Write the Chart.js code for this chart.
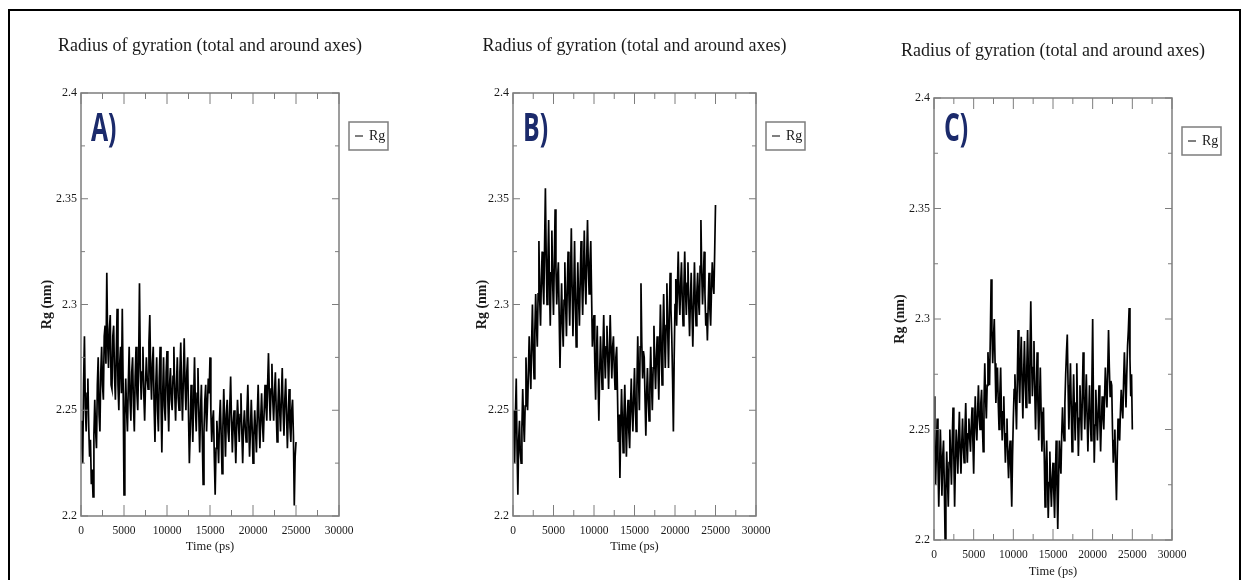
<!DOCTYPE html>
<html>
<head>
<meta charset="utf-8">
<title>Radius of gyration</title>
<script src="https://cdn.jsdelivr.net/npm/chart.js@4.4.1/dist/chart.umd.min.js"></script>
<style>
  body { margin: 0; background: #fff; }
  #page { position: relative; width: 1245px; height: 580px; overflow: hidden; background: #fff; }
  #frame { position: absolute; left: 8px; top: 9px; width: 1233px; height: 600px; border: 2px solid #000; box-sizing: border-box; }
  canvas { position: absolute; top: 0; }
</style>
</head>
<body>
<div id="page">
  <div id="frame"></div>
  <canvas id="chartA" width="415" height="580" style="left:0px"></canvas>
  <canvas id="chartB" width="410" height="580" style="left:420px"></canvas>
  <canvas id="chartC" width="415" height="580" style="left:830px"></canvas>
</div>
<script>
// time axis: one sample every 100 ps, 0 .. 25000 ps
const timePs = Array.from({ length: 251 }, (_, i) => i * 100);

const xTicks = [0, 5000, 10000, 15000, 20000, 25000, 30000];
const yTicks = [2.2, 2.25, 2.3, 2.35, 2.4];

// Rg (nm), 10 samples (1 ns) per row
const rgA = [
  2.245, 2.232, 2.225, 2.262, 2.285, 2.252, 2.240, 2.258, 2.265, 2.242,
  2.228, 2.236, 2.215, 2.222, 2.209, 2.238, 2.255, 2.240, 2.232, 2.262,
  2.275, 2.248, 2.240, 2.268, 2.280, 2.262, 2.255, 2.285, 2.290, 2.272,
  2.315, 2.282, 2.270, 2.288, 2.295, 2.262, 2.260, 2.285, 2.290, 2.266,
  2.255, 2.276, 2.298, 2.262, 2.250, 2.272, 2.280, 2.258, 2.298, 2.262,
  2.210, 2.248, 2.265, 2.250, 2.240, 2.262, 2.280, 2.255, 2.245, 2.268,
  2.275, 2.252, 2.240, 2.266, 2.280, 2.258, 2.250, 2.272, 2.310, 2.270,
  2.255, 2.268, 2.280, 2.258, 2.245, 2.262, 2.275, 2.265, 2.260, 2.282,
  2.295, 2.268, 2.255, 2.272, 2.280, 2.252, 2.235, 2.262, 2.275, 2.250,
  2.240, 2.265, 2.280, 2.255, 2.230, 2.258, 2.275, 2.252, 2.245, 2.268,
  2.278, 2.255, 2.240, 2.262, 2.270, 2.255, 2.250, 2.266, 2.280, 2.258,
  2.245, 2.262, 2.275, 2.256, 2.250, 2.268, 2.282, 2.260, 2.245, 2.265,
  2.284, 2.262, 2.250, 2.268, 2.275, 2.248, 2.225, 2.240, 2.262, 2.250,
  2.235, 2.255, 2.275, 2.252, 2.240, 2.258, 2.270, 2.248, 2.230, 2.250,
  2.262, 2.238, 2.215, 2.240, 2.255, 2.262, 2.240, 2.252, 2.265, 2.258,
  2.275, 2.250, 2.235, 2.245, 2.250, 2.228, 2.210, 2.232, 2.245, 2.236,
  2.225, 2.245, 2.255, 2.238, 2.220, 2.242, 2.260, 2.245, 2.228, 2.248,
  2.255, 2.240, 2.235, 2.252, 2.266, 2.245, 2.230, 2.244, 2.250, 2.238,
  2.225, 2.242, 2.255, 2.245, 2.235, 2.248, 2.258, 2.240, 2.225, 2.242,
  2.250, 2.242, 2.235, 2.250, 2.262, 2.245, 2.228, 2.240, 2.255, 2.242,
  2.225, 2.238, 2.250, 2.240, 2.230, 2.248, 2.262, 2.245, 2.232, 2.246,
  2.258, 2.244, 2.235, 2.250, 2.262, 2.252, 2.245, 2.262, 2.277, 2.258,
  2.245, 2.260, 2.272, 2.255, 2.245, 2.258, 2.268, 2.250, 2.235, 2.252,
  2.265, 2.250, 2.240, 2.256, 2.270, 2.250, 2.238, 2.255, 2.265, 2.248,
  2.232, 2.248, 2.260, 2.242, 2.235, 2.250, 2.255, 2.238, 2.205, 2.228,
  2.235
];

const rgB = [
  2.250, 2.238, 2.225, 2.248, 2.265, 2.232, 2.210, 2.236, 2.245, 2.230,
  2.225, 2.242, 2.260, 2.245, 2.235, 2.252, 2.275, 2.258, 2.250, 2.268,
  2.285, 2.270, 2.260, 2.282, 2.300, 2.278, 2.265, 2.288, 2.305, 2.290,
  2.280, 2.305, 2.330, 2.302, 2.290, 2.312, 2.325, 2.310, 2.300, 2.328,
  2.355, 2.322, 2.300, 2.318, 2.340, 2.312, 2.290, 2.315, 2.335, 2.310,
  2.295, 2.320, 2.345, 2.318, 2.300, 2.312, 2.320, 2.295, 2.270, 2.292,
  2.310, 2.292, 2.280, 2.302, 2.320, 2.300, 2.285, 2.308, 2.325, 2.305,
  2.290, 2.312, 2.336, 2.308, 2.285, 2.305, 2.330, 2.302, 2.280, 2.300,
  2.320, 2.302, 2.290, 2.312, 2.330, 2.310, 2.295, 2.315, 2.335, 2.312,
  2.300, 2.322, 2.340, 2.318, 2.305, 2.320, 2.330, 2.305, 2.280, 2.290,
  2.295, 2.272, 2.255, 2.275, 2.290, 2.265, 2.245, 2.268, 2.285, 2.272,
  2.260, 2.278, 2.295, 2.276, 2.265, 2.280, 2.290, 2.275, 2.260, 2.278,
  2.295, 2.278, 2.265, 2.280, 2.285, 2.270, 2.260, 2.275, 2.280, 2.258,
  2.235, 2.248, 2.218, 2.242, 2.260, 2.245, 2.230, 2.248, 2.262, 2.245,
  2.228, 2.246, 2.255, 2.240, 2.232, 2.250, 2.265, 2.250, 2.240, 2.256,
  2.270, 2.252, 2.240, 2.262, 2.285, 2.265, 2.250, 2.280, 2.310, 2.282,
  2.265, 2.278, 2.275, 2.255, 2.238, 2.258, 2.270, 2.255, 2.245, 2.262,
  2.280, 2.262, 2.250, 2.270, 2.290, 2.272, 2.260, 2.275, 2.285, 2.270,
  2.255, 2.278, 2.300, 2.280, 2.262, 2.285, 2.305, 2.285, 2.270, 2.290,
  2.310, 2.288, 2.270, 2.295, 2.315, 2.298, 2.285, 2.265, 2.240, 2.275,
  2.300, 2.312, 2.290, 2.308, 2.325, 2.305, 2.295, 2.310, 2.320, 2.302,
  2.290, 2.308, 2.325, 2.306, 2.295, 2.310, 2.320, 2.300, 2.285, 2.302,
  2.315, 2.296, 2.280, 2.300, 2.320, 2.302, 2.290, 2.306, 2.315, 2.302,
  2.295, 2.318, 2.340, 2.315, 2.300, 2.312, 2.325, 2.305, 2.290, 2.296,
  2.283, 2.300, 2.315, 2.298, 2.290, 2.306, 2.320, 2.310, 2.305, 2.325,
  2.347
];

const rgC = [
  2.265, 2.242, 2.225, 2.240, 2.255, 2.235, 2.215, 2.232, 2.250, 2.236,
  2.220, 2.238, 2.245, 2.225, 2.200, 2.222, 2.240, 2.228, 2.215, 2.235,
  2.250, 2.236, 2.225, 2.245, 2.260, 2.238, 2.215, 2.235, 2.250, 2.242,
  2.230, 2.246, 2.258, 2.240, 2.230, 2.244, 2.255, 2.242, 2.235, 2.250,
  2.262, 2.245, 2.235, 2.248, 2.255, 2.246, 2.240, 2.252, 2.260, 2.245,
  2.230, 2.250, 2.265, 2.252, 2.245, 2.258, 2.270, 2.256, 2.250, 2.262,
  2.268, 2.252, 2.240, 2.262, 2.280, 2.264, 2.255, 2.270, 2.285, 2.276,
  2.270, 2.292, 2.318, 2.295, 2.280, 2.292, 2.300, 2.280, 2.262, 2.272,
  2.278, 2.262, 2.250, 2.266, 2.278, 2.258, 2.245, 2.258, 2.265, 2.248,
  2.235, 2.248, 2.255, 2.238, 2.228, 2.240, 2.245, 2.230, 2.215, 2.238,
  2.255, 2.268, 2.275, 2.262, 2.250, 2.272, 2.295, 2.275, 2.262, 2.280,
  2.292, 2.272, 2.255, 2.275, 2.290, 2.272, 2.260, 2.278, 2.295, 2.276,
  2.262, 2.285, 2.308, 2.282, 2.265, 2.278, 2.290, 2.268, 2.250, 2.268,
  2.285, 2.262, 2.245, 2.262, 2.278, 2.258, 2.240, 2.252, 2.260, 2.238,
  2.215, 2.232, 2.245, 2.228, 2.210, 2.226, 2.240, 2.225, 2.215, 2.228,
  2.235, 2.222, 2.210, 2.228, 2.245, 2.225, 2.205, 2.226, 2.245, 2.236,
  2.230, 2.248, 2.260, 2.250, 2.245, 2.262, 2.275, 2.285, 2.293, 2.270,
  2.250, 2.266, 2.280, 2.260, 2.240, 2.258, 2.275, 2.258, 2.245, 2.262,
  2.280, 2.258, 2.238, 2.255, 2.270, 2.256, 2.245, 2.266, 2.285, 2.265,
  2.250, 2.262, 2.275, 2.256, 2.240, 2.256, 2.270, 2.256, 2.245, 2.270,
  2.300, 2.262, 2.235, 2.252, 2.268, 2.255, 2.245, 2.258, 2.270, 2.255,
  2.240, 2.254, 2.265, 2.256, 2.250, 2.264, 2.278, 2.268, 2.260, 2.276,
  2.295, 2.278, 2.265, 2.272, 2.270, 2.250, 2.235, 2.245, 2.250, 2.232,
  2.218, 2.238, 2.255, 2.248, 2.245, 2.258, 2.268, 2.260, 2.255, 2.272,
  2.285, 2.272, 2.260, 2.275, 2.288, 2.295, 2.305, 2.282, 2.265, 2.275,
  2.250
];

Chart.defaults.font.family = "'Liberation Serif', 'Times New Roman', serif";
Chart.defaults.color = '#1a1a1a';

// frame, inward ticks, panel letter and the boxed legend
const rgDecor = {
  id: 'rgDecor',
  afterDatasetsDraw(chart, args, opts) {
    const { ctx, chartArea: a, scales: { x, y } } = chart;
    ctx.save();
    ctx.strokeStyle = '#7d7d7d';
    ctx.lineWidth = 1.5;
    ctx.strokeRect(a.left, a.top, a.right - a.left, a.bottom - a.top);

    ctx.lineWidth = 1;
    ctx.beginPath();
    for (let k = 0; k <= 12; k++) {
      const px = x.getPixelForValue(x.min + k * 2500);
      const len = k % 2 === 0 ? 11 : 6;
      ctx.moveTo(px, a.bottom); ctx.lineTo(px, a.bottom - len);
      ctx.moveTo(px, a.top); ctx.lineTo(px, a.top + len);
    }
    for (let k = 0; k <= 8; k++) {
      const py = y.getPixelForValue(y.min + k * 0.025);
      const len = k % 2 === 0 ? 7 : 4;
      ctx.moveTo(a.left, py); ctx.lineTo(a.left + len, py);
      ctx.moveTo(a.right, py); ctx.lineTo(a.right - len, py);
    }
    ctx.stroke();

    // panel letter
    ctx.save();
    ctx.fillStyle = '#1b2a6b';
    ctx.font = 'bold 40px "Open Sans"';
    ctx.textBaseline = 'alphabetic';
    ctx.translate(a.left + 10, opts.letterY);
    ctx.scale(0.62, 1);
    ctx.fillText(opts.letter, 0, 0);
    ctx.restore();

    // legend box
    const ds = chart.data.datasets[0];
    const bx = a.right + 10, by = a.top + 29, bw = 39, bh = 28;
    ctx.strokeStyle = '#7d7d7d';
    ctx.lineWidth = 1.5;
    ctx.strokeRect(bx, by, bw, bh);
    ctx.strokeStyle = ds.borderColor;
    ctx.lineWidth = 1;
    ctx.beginPath();
    ctx.moveTo(bx + 6, by + bh / 2); ctx.lineTo(bx + 14, by + bh / 2);
    ctx.stroke();
    ctx.fillStyle = '#1a1a1a';
    ctx.font = "14px 'Liberation Serif'";
    ctx.textBaseline = 'middle';
    ctx.fillText(ds.label, bx + 20, by + bh / 2);
    ctx.restore();
  }
};

function buildChart(id, values, letter, box) {
  const points = timePs.map((t, i) => ({ x: t, y: values[i] }));
  return new Chart(document.getElementById(id), {
    type: 'line',
    data: {
      datasets: [{
        label: 'Rg',
        data: points,
        borderColor: '#000',
        borderWidth: 1.7,
        pointRadius: 0,
        tension: 0
      }]
    },
    options: {
      responsive: false,
      animation: false,
      layout: { padding: { left: box.padL, right: box.padR, top: 0, bottom: 0 } },
      plugins: {
        legend: { display: false },
        tooltip: { enabled: false },
        title: {
          display: true,
          text: 'Radius of gyration (total and around axes)',
          font: { size: 18, weight: 'normal' },
          color: '#1a1a1a',
          padding: { top: box.titleTop, bottom: 36.4 }
        },
        rgDecor: { letter: letter, letterY: 141 }
      },
      scales: {
        x: {
          type: 'linear',
          min: 0,
          max: 30000,
          afterBuildTicks: s => { s.ticks = xTicks.map(v => ({ value: v })); },
          ticks: { autoSkip: false, maxRotation: 0, padding: box.xPad, font: { size: 11.5 }, color: '#1a1a1a', callback: v => String(v) },
          grid: { display: false, drawTicks: false },
          border: { display: false },
          title: { display: true, text: 'Time (ps)', font: { size: 12.5 }, color: '#1a1a1a', padding: { top: 0, bottom: box.xTitleBottom } },
          afterFit: s => { s.height = box.xH; }
        },
        y: {
          min: 2.2,
          max: 2.4,
          afterBuildTicks: s => { s.ticks = yTicks.map(v => ({ value: v })); },
          ticks: { padding: 4, font: { size: 12 }, color: '#1a1a1a', callback: v => String(Number(v.toFixed(3))) },
          grid: { display: false, drawTicks: false },
          border: { display: false },
          title: { display: true, text: 'Rg (nm)', font: { size: 14, weight: 'bold' }, color: '#1a1a1a', padding: { top: 0, bottom: 0 } },
          afterFit: s => { s.width = box.yW; }
        },
        y2: {
          position: 'right',
          min: 2.2,
          max: 2.4,
          ticks: { display: false },
          grid: { display: false, drawTicks: false },
          border: { display: false },
          afterFit: s => { s.width = box.yW; }
        }
      }
    },
    plugins: [rgDecor]
  });
}

buildChart('chartA', rgA, 'A)', { padL: 38.6, padR: 33.6, yW: 42.4, titleTop: 35, xH: 64, xPad: 8, xTitleBottom: 25.5 });
buildChart('chartB', rgB, 'B)', { padL: 53.6, padR: 34.6, yW: 39.4, titleTop: 35, xH: 64, xPad: 8, xTitleBottom: 25.5 });
buildChart('chartC', rgC, 'C)', { padL: 62.3, padR: 31.3, yW: 41.7, titleTop: 40, xH: 40, xPad: 8, xTitleBottom: 0.5 });
</script>
</body>
</html>
